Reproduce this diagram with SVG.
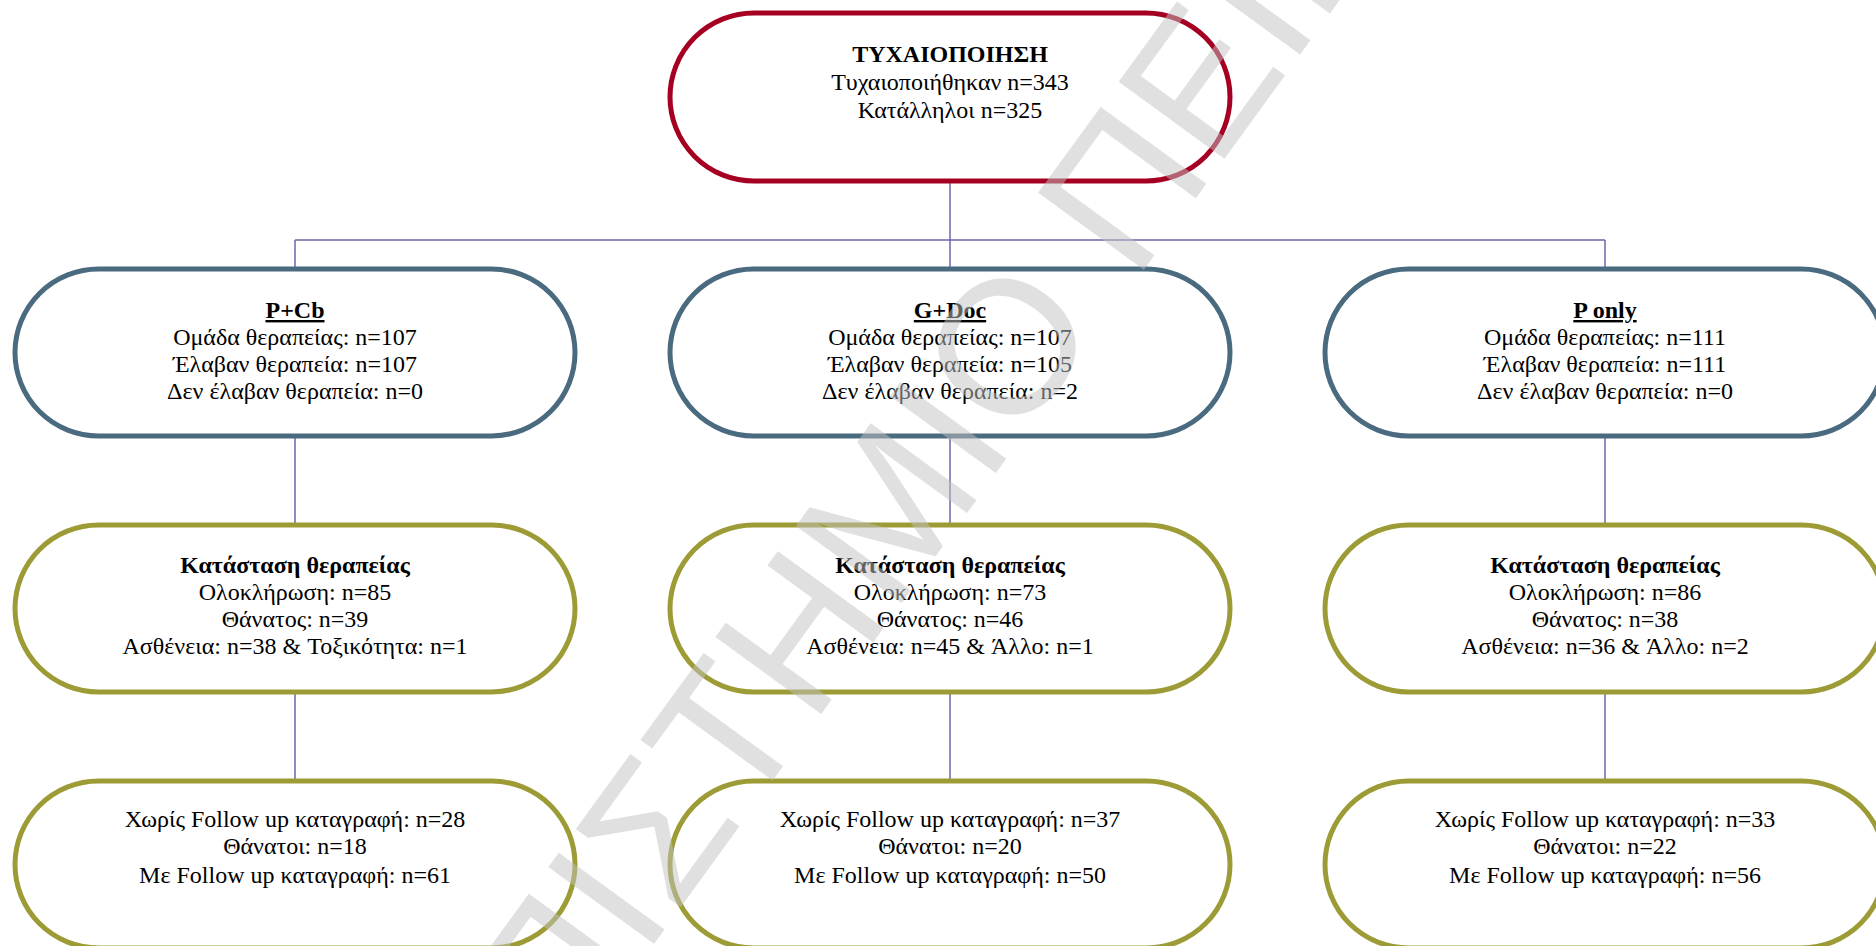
<svg xmlns="http://www.w3.org/2000/svg" width="1876" height="946" viewBox="0 0 1876 946">
<style>
.node{fill:#ffffff;stroke-width:5}
.red{stroke:#A50021}
.blue{stroke:#4A6A80}
.olive{stroke:#9C9B35}
.conn{stroke:#6E67AA;stroke-width:1.5;fill:none}
.t{font-family:"Liberation Serif","Times New Roman","DejaVu Serif",serif;font-size:24px;fill:#000;text-anchor:middle}
.b{font-weight:bold}
.u{font-weight:bold;text-decoration:underline}
.wm{font-family:"Liberation Sans",Arial,sans-serif;font-size:190px;fill:#c3c3c3;opacity:0.5}
</style>
<rect width="1876" height="946" fill="#ffffff"/>
<g id="connectors">
<path class="conn" d="M950 181 V269 M295 240 H1605 M295 240 V269 M1605 240 V269"/>
<path class="conn" d="M295 436 V525 M950 436 V525 M1605 436 V525"/>
<path class="conn" d="M295 692 V781 M950 692 V781 M1605 692 V781"/>
</g>
<g id="randomization">
<rect class="node red" x="670" y="13" width="560" height="168" rx="84"/>
<text class="t b" x="950" y="62">ΤΥΧΑΙΟΠΟΙΗΣΗ</text>
<text class="t" x="950" y="90">Τυχαιοποιήθηκαν n=343</text>
<text class="t" x="950" y="118">Κατάλληλοι n=325</text>
</g>
<g id="pcb">
<rect class="node blue" x="15" y="269" width="560" height="167" rx="83.5"/>
<text class="t u" x="295" y="318">P+Cb</text>
<text class="t" x="295" y="345">Ομάδα θεραπείας: n=107</text>
<text class="t" x="295" y="372">Έλαβαν θεραπεία: n=107</text>
<text class="t" x="295" y="399">Δεν έλαβαν θεραπεία: n=0</text>
</g>
<g id="gdoc">
<rect class="node blue" x="670" y="269" width="560" height="167" rx="83.5"/>
<text class="t u" x="950" y="318">G+Doc</text>
<text class="t" x="950" y="345">Ομάδα θεραπείας: n=107</text>
<text class="t" x="950" y="372">Έλαβαν θεραπεία: n=105</text>
<text class="t" x="950" y="399">Δεν έλαβαν θεραπεία: n=2</text>
</g>
<g id="ponly">
<rect class="node blue" x="1325" y="269" width="560" height="167" rx="83.5"/>
<text class="t u" x="1605" y="318">P only</text>
<text class="t" x="1605" y="345">Ομάδα θεραπείας: n=111</text>
<text class="t" x="1605" y="372">Έλαβαν θεραπεία: n=111</text>
<text class="t" x="1605" y="399">Δεν έλαβαν θεραπεία: n=0</text>
</g>
<g id="status-pcb">
<rect class="node olive" x="15" y="525" width="560" height="167" rx="83.5"/>
<text class="t b" x="295" y="573">Κατάσταση θεραπείας</text>
<text class="t" x="295" y="600">Ολοκλήρωση: n=85</text>
<text class="t" x="295" y="627">Θάνατος: n=39</text>
<text class="t" x="295" y="654">Ασθένεια: n=38 &amp; Τοξικότητα: n=1</text>
</g>
<g id="status-gdoc">
<rect class="node olive" x="670" y="525" width="560" height="167" rx="83.5"/>
<text class="t b" x="950" y="573">Κατάσταση θεραπείας</text>
<text class="t" x="950" y="600">Ολοκλήρωση: n=73</text>
<text class="t" x="950" y="627">Θάνατος: n=46</text>
<text class="t" x="950" y="654">Ασθένεια: n=45 &amp; Άλλο: n=1</text>
</g>
<g id="status-ponly">
<rect class="node olive" x="1325" y="525" width="560" height="167" rx="83.5"/>
<text class="t b" x="1605" y="573">Κατάσταση θεραπείας</text>
<text class="t" x="1605" y="600">Ολοκλήρωση: n=86</text>
<text class="t" x="1605" y="627">Θάνατος: n=38</text>
<text class="t" x="1605" y="654">Ασθένεια: n=36 &amp; Άλλο: n=2</text>
</g>
<g id="followup-pcb">
<rect class="node olive" x="15" y="781" width="560" height="167" rx="83.5"/>
<text class="t" x="295" y="827">Χωρίς Follow up καταγραφή: n=28</text>
<text class="t" x="295" y="854">Θάνατοι: n=18</text>
<text class="t" x="295" y="883">Με Follow up καταγραφή: n=61</text>
</g>
<g id="followup-gdoc">
<rect class="node olive" x="670" y="781" width="560" height="167" rx="83.5"/>
<text class="t" x="950" y="827">Χωρίς Follow up καταγραφή: n=37</text>
<text class="t" x="950" y="854">Θάνατοι: n=20</text>
<text class="t" x="950" y="883">Με Follow up καταγραφή: n=50</text>
</g>
<g id="followup-ponly">
<rect class="node olive" x="1325" y="781" width="560" height="167" rx="83.5"/>
<text class="t" x="1605" y="827">Χωρίς Follow up καταγραφή: n=33</text>
<text class="t" x="1605" y="854">Θάνατοι: n=22</text>
<text class="t" x="1605" y="883">Με Follow up καταγραφή: n=56</text>
</g>
<g id="watermark" transform="translate(1005,345) rotate(-54)">
<text class="wm" x="74" y="68" style="text-anchor:end">ΠΑΝΕΠΙΣΤΗΜΙΟ</text>
<text class="wm" x="127" y="68" style="text-anchor:start">ΠΕΙΡΑΙΩΣ</text>
</g>
</svg>
